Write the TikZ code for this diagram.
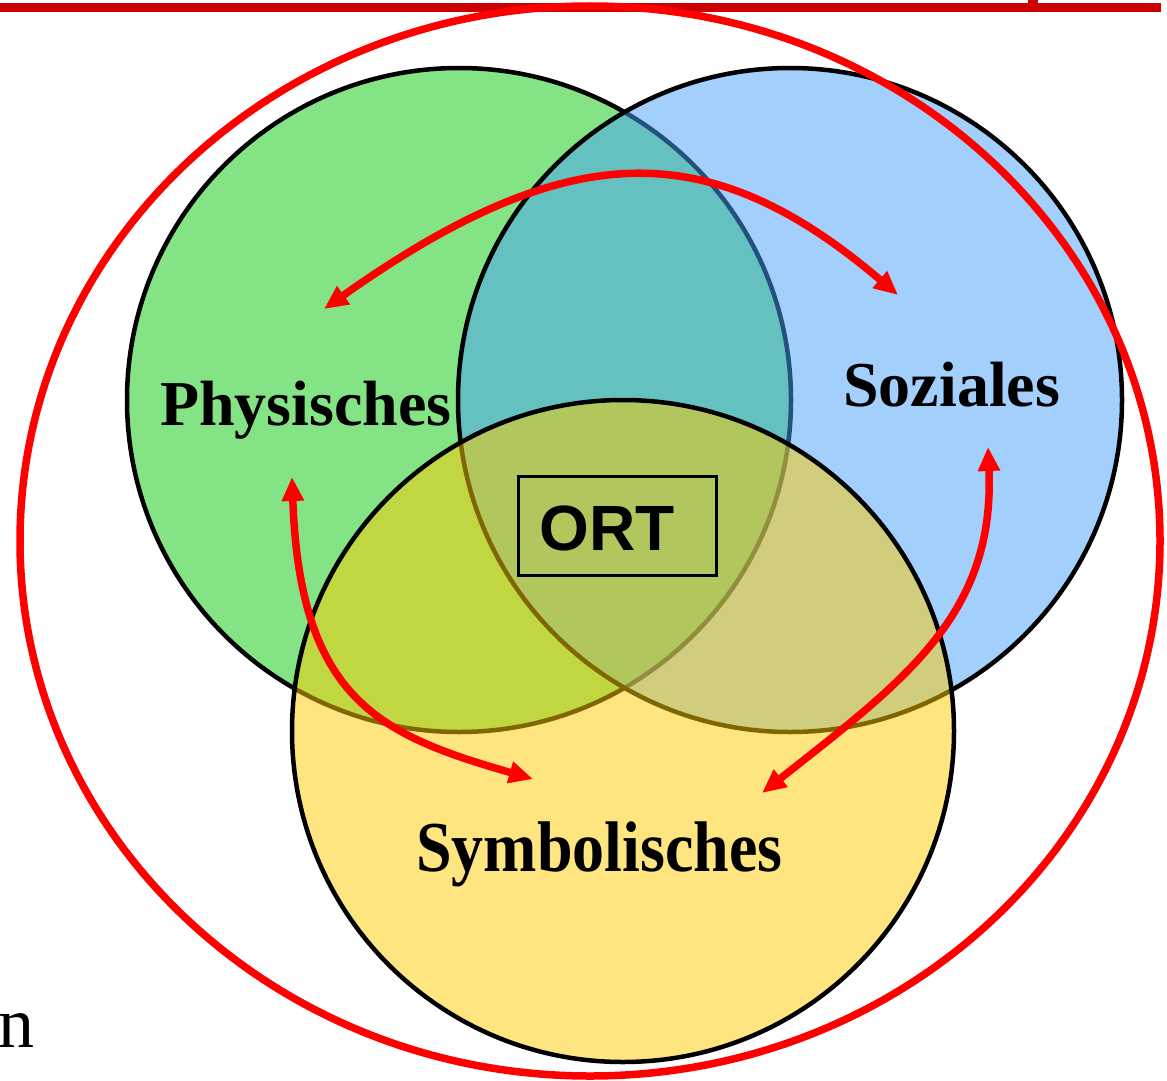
\documentclass[tikz,border=0pt]{standalone}
\usepackage{fontspec}
\setmainfont{Liberation Serif}
\newfontfamily\arialfont{Liberation Sans}
\usetikzlibrary{arrows.meta}
\definecolor{barred}{RGB}{204,0,0}
\definecolor{ringred}{RGB}{255,0,0}
\definecolor{vgreen}{RGB}{10,200,10}
\definecolor{vblue}{RGB}{70,160,250}
\definecolor{vyellow}{RGB}{255,204,0}
\begin{document}
\begin{tikzpicture}[x=1pt,y=-1pt,
  venn/.style={draw=black, line width=4.5pt, fill opacity=0.5},
  lbl/.style={font=\fontsize{64}{64}\selectfont\bfseries, inner sep=0pt, anchor=base west},
  link/.style={draw=ringred, line width=7.5pt, {Triangle[length=24pt,width=21pt]}-{Triangle[length=24pt,width=21pt]}}
]
\useasboundingbox (0,0) rectangle (1167,1081);
% top bar
\fill[barred] (0,3) rectangle (1161,12);
\fill[barred] (1028,0) rectangle (1038,3);
% circles
\draw[venn, fill=vgreen] (459,400) circle[radius=332pt];
\draw[venn, fill=vblue] (790,400) circle[radius=332pt];
\draw[venn, fill=vyellow] (623,731) circle[radius=331pt];
% big ring
\draw[ringred, line width=7.5pt] (590,541) ellipse[x radius=570pt, y radius=535pt];
% labels
\node[lbl] (phys) at (160,425) {Physisches};
\node[lbl] (soz) at (843,406) {Soziales};
\node[lbl, yscale=1.12] (sym) at (416,871) {Symbolisches};
\node[draw=black, line width=3pt, minimum width=198pt, minimum height=99pt, inner sep=0pt] (ortbox) at (617,525.5) {};
\node[font=\arialfont\fontsize{64}{64}\selectfont\bfseries, inner sep=0pt, anchor=base] (ort) at (607.5,550) {ORT};
\node[font=\fontsize{72}{72}\selectfont, inner sep=0pt, anchor=base west] (nn) at (-2,1047) {n};
% arrow ends
\coordinate (pTop) at (324,309);
\coordinate (sTop) at (898,295);
\coordinate (pLow) at (292,477);
\coordinate (yLeft) at (533,779);
\coordinate (sLow) at (988,447);
\coordinate (yRight) at (762,793);
% arrows
\draw[link] (pTop) .. controls (570,135) and (710,135) .. (sTop);
\draw[link] (pLow) .. controls (300,700) and (380,735) .. (yLeft);
\draw[link] (sLow) .. controls (995,615) and (905,680) .. (yRight);
\end{tikzpicture}
\end{document}
